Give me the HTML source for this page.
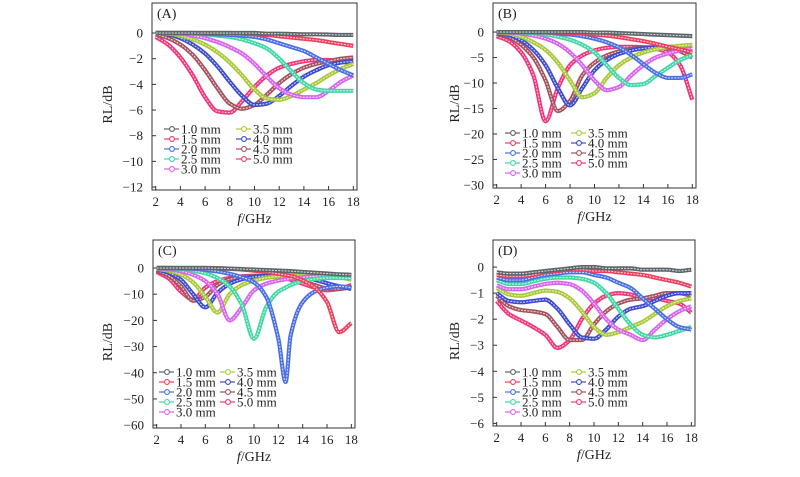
<!DOCTYPE html>
<html><head><meta charset="utf-8"><style>
html,body{margin:0;padding:0;background:#fff;width:800px;height:477px;overflow:hidden}
svg text{font-family:"Liberation Serif",serif;fill:#222}
</style></head><body>
<svg id="chart" width="800" height="477" xmlns="http://www.w3.org/2000/svg" font-family="Liberation Serif, serif"></svg>
<script>
const thicknessLabels=["1.0 mm","1.5 mm","2.0 mm","2.5 mm","3.0 mm","3.5 mm","4.0 mm","4.5 mm","5.0 mm"];
const seriesColors=["#5b6468","#ee3e5e","#4a6ee6","#40d6a6","#d863ee","#a9c838","#3b4ad0","#a4525e","#f2357a"];
const xTicks=[2,4,6,8,10,12,14,16,18];
const freqA=[2,3,4,5,6,7,8,9,10,11,12,13,14,15,16,17,18];
const panelA=[
[0,0,0,0,0,0,0,0,0,-0.05,-0.05,-0.08,-0.1,-0.1,-0.12,-0.15,-0.15],
[0,0,0,0,0,0,0,-0.05,-0.1,-0.15,-0.25,-0.35,-0.45,-0.55,-0.7,-0.85,-1.0],
[0,0,0,0,-0.05,-0.1,-0.15,-0.2,-0.3,-0.5,-0.8,-1.1,-1.4,-1.9,-2.4,-2.9,-3.3],
[0,0,0,-0.05,-0.1,-0.2,-0.3,-0.5,-0.8,-1.2,-2.0,-3.0,-3.9,-4.4,-4.5,-4.5,-4.5],
[0,0,-0.05,-0.2,-0.4,-0.7,-1.1,-1.6,-2.4,-3.4,-4.3,-4.8,-5.0,-5.0,-4.5,-3.8,-3.3],
[0,-0.05,-0.2,-0.5,-0.9,-1.5,-2.3,-3.3,-4.4,-5.1,-5.2,-4.9,-4.4,-3.9,-3.3,-2.8,-2.4],
[0,-0.1,-0.4,-0.9,-1.6,-2.6,-3.8,-4.9,-5.6,-5.5,-4.9,-4.1,-3.4,-2.9,-2.5,-2.3,-2.2],
[-0.1,-0.4,-0.9,-1.7,-2.9,-4.3,-5.5,-5.9,-5.6,-4.8,-3.9,-3.2,-2.7,-2.4,-2.2,-2.0,-1.9],
[-0.3,-0.9,-1.9,-3.3,-5.0,-6.1,-6.2,-5.3,-4.2,-3.3,-2.7,-2.4,-2.2,-2.1,-2.1,-2.2,-2.4]];
const yTicksA=[0,-2,-4,-6,-8,-10,-12];
const freqB=[2,3,4,5,6,7,8,9,10,11,12,13,14,15,16,17,18];
const panelB=[
[0,0,0,0,0,0,0,0,-0.1,-0.1,-0.2,-0.3,-0.4,-0.5,-0.6,-0.7,-0.8],
[0,0,0,0,-0.05,-0.1,-0.2,-0.3,-0.5,-0.7,-1.0,-1.4,-1.8,-2.3,-2.9,-3.4,-4.0],
[0,0,0,-0.05,-0.1,-0.3,-0.5,-0.8,-1.3,-2.0,-3.0,-4.5,-6.3,-8.0,-9.0,-9.0,-8.3],
[0,0,-0.1,-0.2,-0.5,-0.9,-1.5,-2.5,-4.0,-6.5,-9.0,-10.4,-10.2,-8.6,-7.0,-5.5,-4.5],
[0,-0.1,-0.3,-0.7,-1.3,-2.3,-4.0,-6.5,-9.5,-11.4,-10.8,-8.5,-6.5,-5.0,-4.2,-3.6,-3.2],
[-0.1,-0.3,-0.9,-2.0,-3.5,-6.0,-9.5,-12.8,-12.0,-9.0,-6.5,-5.0,-4.0,-3.4,-3.0,-2.7,-2.5],
[-0.2,-0.6,-1.6,-3.5,-6.5,-11.0,-14.4,-11.0,-7.5,-5.5,-4.3,-3.6,-3.2,-3.0,-2.9,-2.9,-3.0],
[-0.4,-1.0,-2.5,-5.0,-9.5,-15.5,-13.5,-8.5,-6.0,-4.6,-3.8,-3.3,-3.0,-3.0,-3.2,-3.8,-5.0],
[-0.8,-1.8,-4.0,-8.5,-17.5,-11.0,-6.5,-4.6,-3.6,-3.1,-2.9,-2.9,-3.0,-3.3,-4.0,-6.5,-13.3]];
const yTicksB=[0,-5,-10,-15,-20,-25,-30];
const freqC=[2,3,4,5,6,7,8,9,10,11,12,12.6,13,14,15,16,17,18];
const panelC=[
[0,0,0,0,0,-0.1,-0.2,-0.4,-0.6,-0.8,-1.0,-1.1,-1.2,-1.5,-1.8,-2.1,-2.4,-2.6],
[0,0,0,0,0,-0.1,-0.3,-0.6,-1.0,-1.5,-2.2,-2.7,-3.0,-4.7,-7.5,-13,-24.5,-21],
[0,0,-0.1,-0.3,-0.7,-1.3,-2.2,-3.5,-5.5,-11,-27,-43.5,-26,-13,-9,-7.5,-7,-7.5],
[0,-0.1,-0.4,-1,-2,-3.8,-7,-14,-27,-15,-9,-7.5,-6.5,-5,-4.2,-3.8,-3.8,-4],
[-0.1,-0.5,-1.2,-2.6,-5,-10,-20,-15,-8.5,-6,-4.8,-4.3,-4,-3.5,-3.2,-3,-2.8,-2.7],
[-0.3,-1,-2.5,-5.5,-11,-17,-10,-6.5,-4.8,-3.8,-3.2,-3,-2.9,-2.8,-2.8,-3,-3.5,-4.5],
[-0.5,-1.8,-4.5,-10,-15,-9.5,-6,-4.3,-3.4,-3,-2.9,-3,-3.1,-3.6,-4.5,-5.8,-7,-8],
[-1,-3,-7,-12.5,-11,-6.5,-4.3,-3.4,-3,-3,-3.2,-3.5,-3.8,-5,-6.5,-7.8,-8,-7.3],
[-1.5,-4,-9,-12,-7.5,-5,-3.8,-3.2,-3,-3.1,-3.5,-4,-4.5,-6,-7.5,-8.5,-8,-6.5]];
const yTicksC=[0,-10,-20,-30,-40,-50,-60];
const freqD=[2,3,4,5,6,7,8,9,10,11,12,13,14,15,16,17,18];
const panelD=[
[-0.2,-0.25,-0.25,-0.2,-0.15,-0.1,-0.05,0,0,-0.05,-0.05,-0.05,-0.1,-0.1,-0.1,-0.15,-0.1],
[-0.3,-0.35,-0.35,-0.3,-0.2,-0.15,-0.1,-0.1,-0.15,-0.15,-0.2,-0.25,-0.3,-0.4,-0.5,-0.6,-0.75],
[-0.4,-0.5,-0.5,-0.4,-0.3,-0.25,-0.2,-0.2,-0.3,-0.4,-0.6,-0.8,-1.2,-1.6,-2.0,-2.3,-2.4],
[-0.5,-0.65,-0.65,-0.55,-0.45,-0.4,-0.4,-0.45,-0.6,-1.0,-1.6,-2.2,-2.6,-2.7,-2.6,-2.45,-2.3],
[-0.7,-0.85,-0.85,-0.75,-0.65,-0.6,-0.65,-0.9,-1.4,-2.0,-2.4,-2.6,-2.8,-2.4,-2.0,-1.7,-1.5],
[-0.8,-1.05,-1.1,-1.0,-0.9,-0.95,-1.2,-1.7,-2.3,-2.6,-2.5,-2.3,-2.1,-1.8,-1.5,-1.3,-1.2],
[-1.0,-1.3,-1.35,-1.3,-1.25,-1.6,-2.2,-2.7,-2.75,-2.4,-1.9,-1.6,-1.5,-1.3,-1.1,-1.0,-1.0],
[-1.1,-1.5,-1.65,-1.7,-1.8,-2.3,-2.8,-2.8,-2.2,-1.7,-1.4,-1.25,-1.2,-1.1,-1.0,-1.0,-1.1],
[-1.3,-1.8,-2.05,-2.3,-2.6,-3.1,-2.8,-2.0,-1.4,-1.1,-1.0,-1.05,-1.2,-1.2,-1.3,-1.4,-1.75]];
const yTicksD=[0,-1,-2,-3,-4,-5,-6];

const NS="http://www.w3.org/2000/svg";
const svg=document.getElementById("chart");
function mk(tag,attrs,parent){const e=document.createElementNS(NS,tag);for(const k in attrs)e.setAttribute(k,attrs[k]);(parent||svg).appendChild(e);return e;}
function monoPath(pts){
  const n=pts.length;if(n<2)return"";
  const dx=[],s=[];for(let i=0;i<n-1;i++){dx.push(pts[i+1][0]-pts[i][0]);s.push((pts[i+1][1]-pts[i][1])/dx[i]);}
  const m=[s[0]];for(let i=1;i<n-1;i++){m.push(s[i-1]*s[i]<=0?0:(dx[i-1]+dx[i])*3/((2*dx[i]+dx[i-1])/s[i-1]+(dx[i]+2*dx[i-1])/s[i]));}
  m.push(s[n-2]);
  let d="M"+pts[0][0]+","+pts[0][1];
  for(let i=0;i<n-1;i++){const h=dx[i]/3;d+=" C"+(pts[i][0]+h)+","+(pts[i][1]+m[i]*h)+" "+(pts[i+1][0]-h)+","+(pts[i+1][1]-m[i+1]*h)+" "+pts[i+1][0]+","+pts[i+1][1];}
  return d;
}
function panel(cfg){
  const g=mk("g",{});
  
  
  const {x0,x1,y0,y1,xmin,xmax,ymin,ymax}=cfg;
  const X=v=>x0+(v-xmin)/(xmax-xmin)*(x1-x0);
  const Y=v=>y0+(ymax-v)/(ymax-ymin)*(y1-y0);
  for(let si=cfg.data.length-1;si>=0;si--){
    const pts=cfg.freq.map((f,i)=>[X(f),Y(cfg.data[si][i])]);
    const d=monoPath(pts);
    const p=mk("path",{d:d,fill:"none",stroke:seriesColors[si],"stroke-width":4.2,"stroke-linejoin":"round"},g);
    
    
    const q=mk("path",{d:d,fill:"none",stroke:"#fff","stroke-width":1.1,"stroke-opacity":0.75,"stroke-dasharray":"2 1.2"},g);
    
    
  }
  const fr=mk("rect",{x:x0,y:y0,width:x1-x0,height:y1-y0,fill:"none",stroke:"#333","stroke-width":1},g);
  
  
  xTicks.forEach(t=>{
    const x=X(t);
    const tk=mk("line",{x1:x,x2:x,y1:y1,y2:y1-4,stroke:"#333"},g);
    
    
    const tx=mk("text",{x:x,y:y1+16,"text-anchor":"middle","font-size":13},g);tx.textContent=t;
    
    
  });
  cfg.yTicks.forEach(t=>{
    const y=Y(t);
    const tk=mk("line",{x1:x0,x2:x0+4,y1:y,y2:y,stroke:"#333"},g);
    
    
    const tx=mk("text",{x:x0-9,y:y+4.5,"text-anchor":"end","font-size":13},g);tx.textContent=t<0?"\u2212"+(-t):String(t);
    
    
  });
  const pl=mk("text",{x:x0+5,y:y0+15,"font-size":14},g);pl.textContent="("+cfg.id+")";
  
  
  const xt=mk("text",{x:(x0+x1)/2,y:y1+33,"text-anchor":"middle","font-size":14},g);
  xt.innerHTML='<tspan font-style="italic">f</tspan>/GHz';
  
  
  const yc=(y0+y1)/2+8;
  const yt=mk("text",{x:cfg.ytx,y:yc,"text-anchor":"middle","font-size":14,transform:"rotate(-90 "+cfg.ytx+" "+yc+")"},g);yt.textContent="RL/dB";
  
  
  thicknessLabels.forEach((lab,i)=>{
    const col=i<5?0:1,row=i<5?i:i-5;
    const tx0=col===0?cfg.lx1:cfg.lx2;
    const ly=cfg.ly+row*10;
    const lg=mk("g",{},g);
    
    
    mk("line",{x1:tx0-17,x2:tx0-2,y1:ly,y2:ly,stroke:seriesColors[i],"stroke-width":1.2},lg);
    mk("circle",{cx:tx0-9,cy:ly,r:2.4,fill:"#fff",stroke:seriesColors[i],"stroke-width":1.1},lg);
    const t=mk("text",{x:tx0,y:ly+4.5,"font-size":13},lg);t.textContent=lab;
  });
}
panel({id:"A",x0:152,x1:357,y0:3,y1:190,xmin:1.7,xmax:18.3,ymin:-12.23,ymax:2.34,freq:freqA,data:panelA,yTicks:yTicksA,ytx:112,lx1:181,lx2:253,ly:129});
panel({id:"B",x0:493,x1:696,y0:3,y1:188,xmin:1.7,xmax:18.3,ymin:-30.6,ymax:5.7,freq:freqB,data:panelB,yTicks:yTicksB,ytx:459,lx1:522,lx2:588,ly:133});
panel({id:"C",x0:153,x1:355,y0:240,y1:428,xmin:1.7,xmax:18.3,ymin:-61.1,ymax:10.7,freq:freqC,data:panelC,yTicks:yTicksC,ytx:112,lx1:176,lx2:237,ly:372});
panel({id:"D",x0:493,x1:695,y0:240,y1:426,xmin:1.7,xmax:18.3,ymin:-6.1,ymax:1.04,freq:freqD,data:panelD,yTicks:yTicksD,ytx:459,lx1:522,lx2:588,ly:372});
</script>
</body></html>
